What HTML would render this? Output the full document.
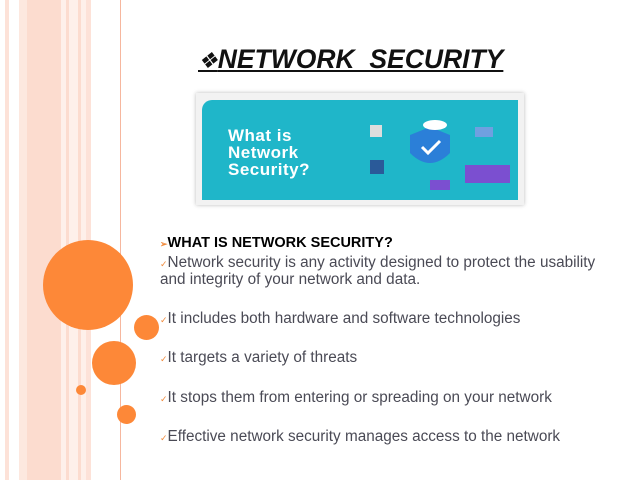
<!DOCTYPE html>
<html><head><style>
body{margin:0;width:640px;height:480px;background:#fff;position:relative;overflow:hidden;font-family:"Liberation Sans",sans-serif}
.a{position:absolute}
.t{position:absolute;left:160px;color:#4a4a55;font-size:15.3px;white-space:nowrap}
.ck{color:#f08a3c;font-size:9px}
</style></head><body>
<div class="a" style="left:5px;top:0;width:4px;height:480px;background:#fde2d8"></div>
<div class="a" style="left:19px;top:0;width:42px;height:480px;background:#fde8df"></div>
<div class="a" style="left:27px;top:0;width:34px;height:480px;background:#fcdccf"></div>
<div class="a" style="left:61px;top:0;width:30px;height:480px;background:#fef0ea"></div>
<div class="a" style="left:66px;top:0;width:3px;height:480px;background:#fcdccf"></div>
<div class="a" style="left:78px;top:0;width:3px;height:480px;background:#fcdccf"></div>
<div class="a" style="left:86px;top:0;width:5px;height:480px;background:#fde2d8"></div>
<div class="a" style="left:120px;top:0;width:1px;height:480px;background:#f6b79e"></div>
<div class="a" style="left:43px;top:240px;width:90px;height:90px;border-radius:50%;background:#fd8838"></div>
<div class="a" style="left:134px;top:315px;width:25px;height:25px;border-radius:50%;background:#fd8838"></div>
<div class="a" style="left:92px;top:341px;width:44px;height:44px;border-radius:50%;background:#fd8838"></div>
<div class="a" style="left:76px;top:385px;width:10px;height:10px;border-radius:50%;background:#fd8838"></div>
<div class="a" style="left:117px;top:405px;width:19px;height:19px;border-radius:50%;background:#fd8838"></div>
<div class="a" style="left:198px;top:44px;font-size:26.5px;font-style:italic;text-decoration:underline;color:#111;white-space:pre"><span style="font-size:22px">❖</span><b>NETWORK  SECURITY</b></div>
<div class="a" style="left:196px;top:93px;width:328px;height:112px;background:#f2f2f2;box-shadow:0 0 4px #bbb"></div>
<div class="a" style="left:202px;top:100px;width:316px;height:100px;background:#1fb6c9;border-radius:10px 0 0 0"></div>
<div class="a" style="left:228px;top:127px;color:#fff;font-weight:bold;font-size:17px;line-height:17px;letter-spacing:0.5px">What is<br>Network<br>Security?</div>
<svg class="a" style="left:340px;top:115px" width="180" height="80">
<path d="M70 20 L90 12 L110 20 V38 Q90 58 70 38Z" fill="#2b7fd8"/>
<path d="M82 32 l6 6 l12 -12" stroke="#fff" stroke-width="3" fill="none"/>
<ellipse cx="95" cy="10" rx="12" ry="5" fill="#fff"/>
<rect x="30" y="10" width="12" height="12" fill="#ddd"/><rect x="30" y="45" width="14" height="14" fill="#2a5a99"/>
<rect x="135" y="12" width="18" height="10" fill="#6fa0e0"/><rect x="125" y="50" width="45" height="18" fill="#7b4fd0"/>
<rect x="90" y="65" width="20" height="10" fill="#7b4fd0"/>
</svg>
<div class="a" style="left:160px;top:235px;font-size:14.5px;font-weight:bold;color:#000"><span class="ck">➢</span>WHAT IS NETWORK SECURITY?</div>
<div class="t" style="top:255px;line-height:16px"><span class="ck">✓</span>Network security is any activity designed to protect the usability<br>and integrity of your network and data.</div>
<div class="t" style="top:310px"><span class="ck">✓</span>It includes both hardware and software technologies</div>
<div class="t" style="top:349px"><span class="ck">✓</span>It targets a variety of threats</div>
<div class="t" style="top:389px"><span class="ck">✓</span>It stops them from entering or spreading on your network</div>
<div class="t" style="top:428px"><span class="ck">✓</span>Effective network security manages access to the network</div>
</body></html>
